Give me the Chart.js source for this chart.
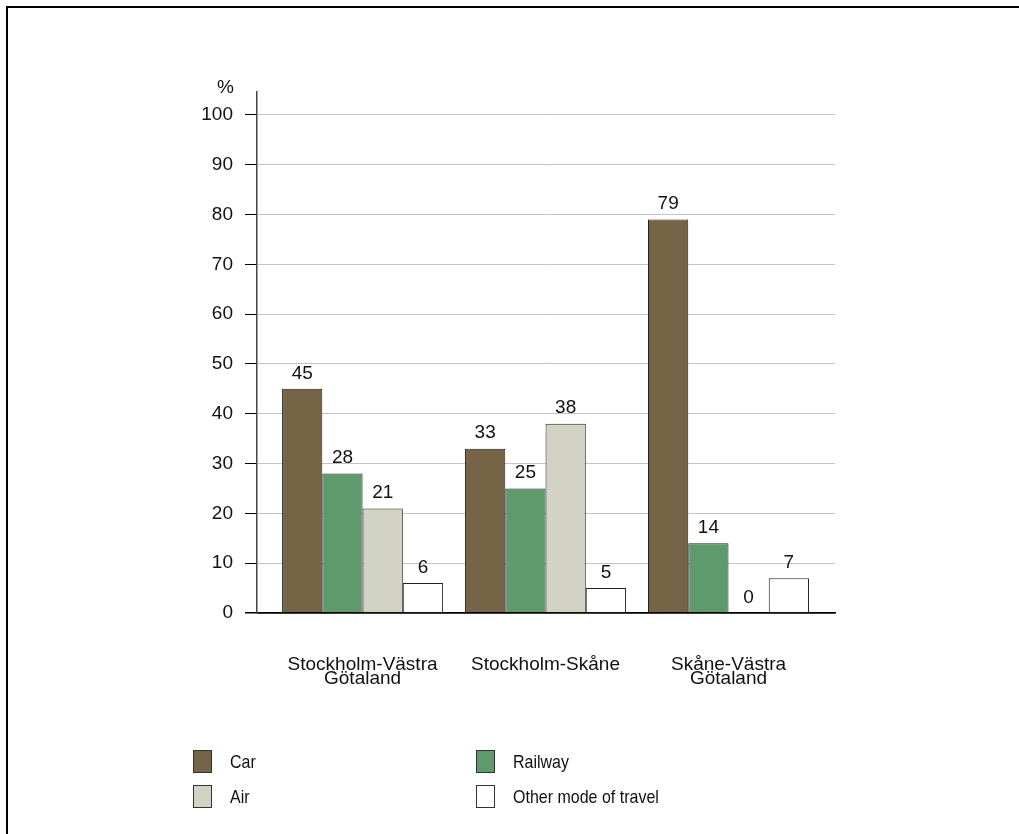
<!DOCTYPE html>
<html>
<head>
<meta charset="utf-8">
<script src="https://cdn.jsdelivr.net/npm/chart.js@4"></script>
<style>
    body { margin: 0; background: #fff; font-family: "Liberation Sans", Arial, sans-serif; }
    #wrap { position: relative; width: 1019px; height: 834px; overflow: hidden; }
    #frame { position: absolute; left: 6px; top: 6px; right: -4px; bottom: -4px; border-left: 2px solid #000; border-top: 2px solid #000; }
    #chart { position: absolute; left: 0; top: 0; }
    #legend { position: absolute; left: 193px; top: 750px; width: 640px; }
    .item { position: absolute; font-size: 16px; color: #111; }
    .item span.box { position: absolute; left: 0; top: 0; width: 17px; height: 21px; border: 1px solid #333; }
    .item span.txt { position: absolute; left: 37px; top: 3px; white-space: nowrap; transform: scaleY(1.2); transform-origin: 0 50%; }
</style>
</head>
<body>
<div id="wrap">
    <div id="frame"></div>
    <canvas id="chart" width="1019" height="834"></canvas>
    <div id="legend"></div>
</div>
<script>
// categories (two-line labels as arrays)
const categories = [["Stockholm-Västra", "Götaland"], "Stockholm-Skåne", ["Skåne-Västra", "Götaland"]];
const seriesNames = ["Car", "Railway", "Air", "Other mode of travel"];
const car = [45, 33, 79];
const railway = [28, 25, 14];
const air = [21, 38, 0];
const other = [6, 5, 7];
const yTicks = [0, 10, 20, 30, 40, 50, 60, 70, 80, 90, 100];

const colors = ["#766446", "#5e9a6c", "#d2d3c3", "#ffffff"];
const values = [car, railway, air, other];
const FONT = "'Liberation Sans', Arial, sans-serif";

const datasets = values.map(function(v, k) {
    return {
        label: seriesNames[k],
        data: v.map((y, i) => ({x: i, y: y})),
        backgroundColor: colors[k],
        borderColor: "#222",
        borderWidth: 1,
        categoryPercentage: 0.88,
        barPercentage: 1
    };
});

// value labels on top of bars + the "%" unit label
const labelsPlugin = {
    id: "valueLabels",
    afterDatasetsDraw(chart) {
        const ctx = chart.ctx;
        ctx.save();
        ctx.font = "19px " + FONT;
        ctx.fillStyle = "#111";
        ctx.textAlign = "center";
        ctx.textBaseline = "bottom";
        chart.data.datasets.forEach(function(ds, k) {
            chart.getDatasetMeta(k).data.forEach(function(el, i) {
                ctx.fillText(String(ds.data[i].y), el.x, el.y - 6);
            });
        });
        const ys = chart.scales.y;
        ctx.textAlign = "right";
        ctx.textBaseline = "middle";
        ctx.fillText("%", ys.right - 23, ys.top - 4);
        ctx.restore();
    }
};

new Chart(document.getElementById("chart").getContext("2d"), {
    type: "bar",
    data: {datasets: datasets},
    plugins: [labelsPlugin],
    options: {
        responsive: false,
        animation: false,
        layout: {padding: {left: 0, right: 184, top: 92, bottom: 111}},
        plugins: {legend: {display: false}, tooltip: {enabled: false}},
        scales: {
            x: {
                type: "linear",
                offset: false,
                min: -0.577,
                max: 2.582,
                afterBuildTicks: (scale) => { scale.ticks = categories.map((c, i) => ({value: i})); },
                afterFit: (scale) => { scale.height = 110; },
                grid: {display: false, drawTicks: false},
                border: {display: true, color: "#000", width: 1.5},
                ticks: {
                    autoSkip: false,
                    maxRotation: 0,
                    padding: 45,
                    color: "#111",
                    font: {size: 19, family: FONT, lineHeight: 0.72},
                    callback: (v) => categories[v]
                }
            },
            y: {
                min: 0,
                max: 104.6,
                afterBuildTicks: (scale) => { scale.ticks = yTicks.map((v) => ({value: v})); },
                afterFit: (scale) => { scale.width = 257; },
                grid: {
                    color: (c) => c.tick && c.tick.value === 0 ? "#000" : "#c4c4c4",
                    lineWidth: (c) => c.tick && c.tick.value === 0 ? 1.5 : 1,
                    tickColor: "#000",
                    tickLength: 12
                },
                border: {display: true, color: "#444", width: 1.5},
                ticks: {
                    padding: 12,
                    color: "#111",
                    font: {size: 19, family: FONT}
                }
            }
        }
    }
});

// legend (two columns, as in the original)
const legend = document.getElementById("legend");
const slots = [[0, 0], [283, 0], [0, 35], [283, 35]];
seriesNames.forEach(function(name, k) {
    const item = document.createElement("div");
    item.className = "item";
    item.style.left = slots[k][0] + "px";
    item.style.top = slots[k][1] + "px";
    item.innerHTML = '<span class="box" style="background:' + colors[k] + '"></span><span class="txt">' + name + '</span>';
    legend.appendChild(item);
});
</script>
</body>
</html>
